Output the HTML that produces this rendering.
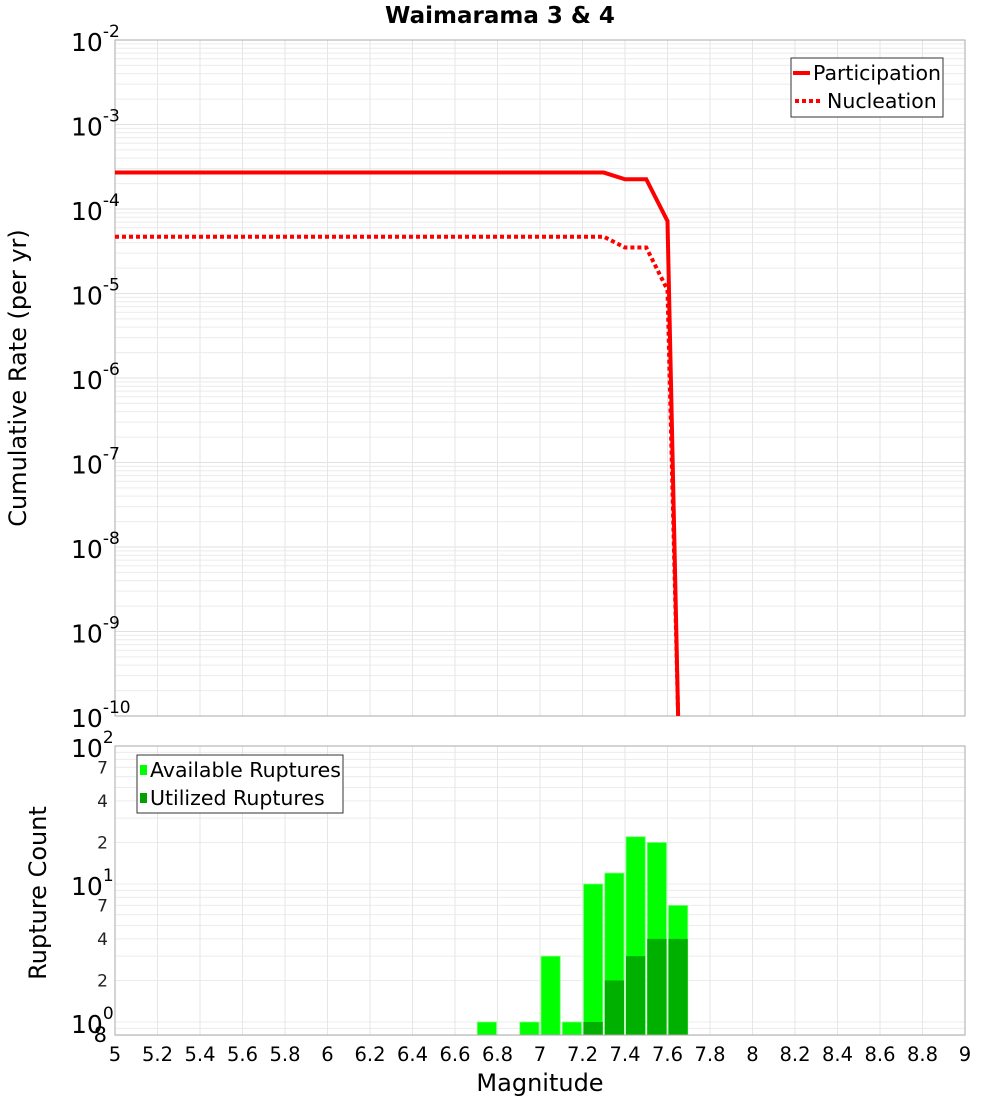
<!DOCTYPE html>
<html><head><meta charset="utf-8"><style>
body{margin:0;background:#fff}
svg text{font-family:"DejaVu Sans","Liberation Sans",sans-serif}
</style></head><body>
<svg id="chart" width="1000" height="1100" xmlns="http://www.w3.org/2000/svg">
<text x="500" y="23" text-anchor="middle" font-size="23" font-weight="bold">Waimarama 3 &amp; 4</text>
<g id="topPlot"></g>
<g id="botPlot"></g>
</svg>
<script>
const magnitudes=[5,7.3,7.4,7.5,7.6,7.65];
const participation=[2.7e-4,2.7e-4,2.25e-4,2.25e-4,7.2e-5,1e-10];
const nucleation=[4.7e-5,4.7e-5,3.5e-5,3.5e-5,1.1e-5,1e-10];
const binCenters=[6.75,6.95,7.05,7.15,7.25,7.35,7.45,7.55,7.65];
const available=[1,1,3,1,10,12,22,20,7];
const utilized=[0,0,0,0,1,2,3,4,4];
const xTicks=[5,5.2,5.4,5.6,5.8,6,6.2,6.4,6.6,6.8,7,7.2,7.4,7.6,7.8,8,8.2,8.4,8.6,8.8,9];
const topExps=[-2,-3,-4,-5,-6,-7,-8,-9,-10];
const botMinor=[2,4,7];

const NS="http://www.w3.org/2000/svg";
const X0=115,X1=965;
const xs=v=>X0+(v-5)/4*(X1-X0);
const T0=40,T1=716;
const yt=v=>T0+(-2-Math.log10(v))*(T1-T0)/8;
const B0=746,B1=1035;
const yb=v=>1022-Math.log10(v)*138;
function el(p,tag,a,txt){const e=document.createElementNS(NS,tag);for(const k in a)e.setAttribute(k,a[k]);if(txt!==undefined)e.textContent=txt;p.appendChild(e);return e;}
const topG=document.getElementById('topPlot'),botG=document.getElementById('botPlot');

for(let d=-10;d<-2;d++)for(let m=1;m<10;m++){const y=yt(m*Math.pow(10,d));
 const g=el(topG,'line',{x1:X0,x2:X1,y1:y,y2:y,stroke:m==1?'#e2e2e2':'#ececec','stroke-width':1});
 
 }
xTicks.forEach(t=>{const g=el(topG,'line',{x1:xs(t),x2:xs(t),y1:T0,y2:T1,stroke:'#e6e6e6'});
 
 });
const tf=el(topG,'rect',{x:X0,y:T0,width:X1-X0,height:T1-T0,fill:'none',stroke:'#aaa'});


topExps.forEach(e=>{const y=yt(Math.pow(10,e));
 const t=el(topG,'text',{x:71,y:y+11,'font-size':25},'10');
 
 
 el(t,'tspan',{dy:-14,'font-size':17},String(e));});
const yl=el(topG,'text',{x:0,y:0,'font-size':24,'text-anchor':'middle',transform:`translate(26,378) rotate(-90)`},'Cumulative Rate (per yr)');


const cp=el(topG,'clipPath',{id:'cp'});el(cp,'rect',{x:X0,y:T0,width:X1-X0,height:T1-T0});
function line(vals,dash,name){const pts=magnitudes.map((m,i)=>xs(m)+','+yt(vals[i])).join(' ');
 const a={points:pts,fill:'none',stroke:'#f00','stroke-width':4,'clip-path':'url(#cp)'};if(dash)a['stroke-dasharray']='4 3';
 const p=el(topG,'polyline',a);
 
 }
line(participation,false,'participation-line');line(nucleation,true,'nucleation-line');
const lg=el(topG,'g',{});


el(lg,'rect',{x:791,y:58,width:152,height:59,fill:'#fff',stroke:'#333'});
el(lg,'line',{x1:793,x2:810,y1:73,y2:73,stroke:'#f00','stroke-width':4});
el(lg,'text',{x:813,y:80,'font-size':20.5},'Participation');
el(lg,'line',{x1:795,x2:820,y1:101,y2:101,stroke:'#f00','stroke-width':4,'stroke-dasharray':'4 3'});
el(lg,'text',{x:827,y:108,'font-size':20.5},'Nucleation');

[0.8,0.9,1,2,3,4,5,6,7,8,9,10,20,30,40,50,60,70,80,90].forEach(v=>{const y=yb(v);
 const g=el(botG,'line',{x1:X0,x2:X1,y1:y,y2:y,stroke:'#ececec'});
 
 });
xTicks.forEach(t=>{const g=el(botG,'line',{x1:xs(t),x2:xs(t),y1:B0,y2:B1,stroke:'#e6e6e6'});
 
 });
const cw=(xs(0.1)-xs(0));
binCenters.forEach((c,i)=>{const x=xs(c)-cw/2+1,w=cw-2;
 const r=el(botG,'rect',{x:x,y:yb(available[i]),width:w,height:B1-yb(available[i]),fill:'#00ff00',stroke:'#7fff7f','stroke-width':0.8});
 
 
 if(utilized[i]>0){const u=el(botG,'rect',{x:x,y:yb(utilized[i]),width:w,height:B1-yb(utilized[i]),fill:'#00b000'});
 
 }});
const bf=el(botG,'rect',{x:X0,y:B0,width:X1-X0,height:B1-B0,fill:'none',stroke:'#aaa'});


[0,1,2].forEach(e=>{const y=yb(Math.pow(10,e));
 const t=el(botG,'text',{x:71,y:y+11,'font-size':25},'10');
 
 
 el(t,'tspan',{dy:-14,'font-size':17},String(e));});
[0,1].forEach(e=>botMinor.forEach(m=>{const y=yb(m*Math.pow(10,e));
 const t=el(botG,'text',{x:108,y:y+6,'font-size':17,'text-anchor':'end',fill:'#222'},String(m));
 
 }));
const e8=el(botG,'text',{x:107,y:1042,'font-size':21,'text-anchor':'end'},'8');


xTicks.forEach(t=>{const s=el(botG,'text',{x:xs(t),y:1061,'font-size':19.5,'text-anchor':'middle'},String(t));
 
 });
const bl=el(botG,'text',{x:0,y:0,'font-size':24,'text-anchor':'middle',transform:`translate(46,893) rotate(-90)`},'Rupture Count');


const xl=el(botG,'text',{x:540,y:1091,'font-size':24,'text-anchor':'middle'},'Magnitude');


const bg=el(botG,'g',{});


el(bg,'rect',{x:137,y:755,width:206,height:58,fill:'#fff',stroke:'#333'});
el(bg,'rect',{x:140,y:765,width:7,height:10,fill:'#00ff00'});
el(bg,'text',{x:150,y:777,'font-size':20.5},'Available Ruptures');
el(bg,'rect',{x:140,y:793,width:7,height:10,fill:'#00a000'});
el(bg,'text',{x:150,y:805,'font-size':20.5},'Utilized Ruptures');
</script>
</body></html>
